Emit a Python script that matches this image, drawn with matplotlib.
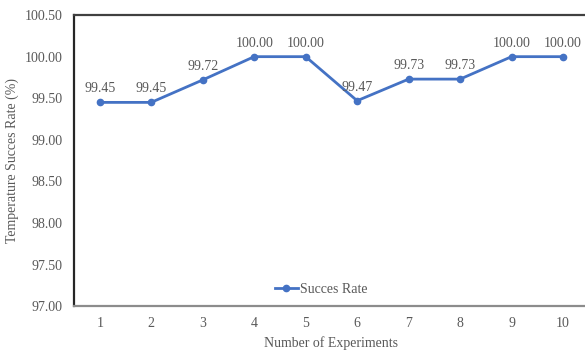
import matplotlib
matplotlib.use("Agg")
import matplotlib.pyplot as plt

experiments = [1, 2, 3, 4, 5, 6, 7, 8, 9, 10]
success_rate = [99.45, 99.45, 99.72, 100.00, 100.00, 99.47, 99.73, 99.73, 100.00, 100.00]
y_ticks = [97.00, 97.50, 98.00, 98.50, 99.00, 99.50, 100.00, 100.50]

plt.rcParams['font.family'] = ['Liberation Serif', 'DejaVu Serif']
text_color = '#595959'
line_color = '#4472C4'

fig = plt.figure(figsize=(5.85, 3.51), dpi=100)
ax = fig.add_axes([0.1265, 0.128, 0.88, 0.829])

ax.plot(experiments, success_rate, color=line_color, lw=2, marker='o', ms=4.5,
        label='Succes Rate')
for x, y in zip(experiments, success_rate):
    ax.annotate(f'{y:.2f}', (x, y), xytext=(0, 5), textcoords='offset points',
                ha='center', va='bottom', fontsize=10, color=text_color)

ax.set_xlim(0.5, 10.5)
ax.set_ylim(97.0, 100.5)
ax.set_xticks(experiments)
ax.set_yticks(y_ticks)
ax.set_yticklabels([f'{v:.2f}' for v in y_ticks])
ax.tick_params(axis='both', length=0, labelsize=10, colors=text_color)
ax.tick_params(axis='x', pad=8)
ax.tick_params(axis='y', pad=8)

ax.spines['right'].set_visible(False)
ax.spines['top'].set_color('#404040')
ax.spines['top'].set_linewidth(1.6)
ax.spines['left'].set_color('#262626')
ax.spines['left'].set_linewidth(1.6)
ax.spines['bottom'].set_color('#8c8c8c')
ax.spines['bottom'].set_linewidth(1.6)

ax.set_xlabel('Number of Experiments', fontsize=10, color=text_color, labelpad=4)
ax.set_ylabel('Temperature Succes Rate (%)', fontsize=10, color=text_color, labelpad=4)

ax.legend(loc='lower center', bbox_to_anchor=(0.481, 0.0), frameon=False,
          fontsize=10, labelcolor=text_color, handlelength=1.6, handletextpad=0.2,
          borderaxespad=0.3)

fig.savefig('out.png', dpi=100)
